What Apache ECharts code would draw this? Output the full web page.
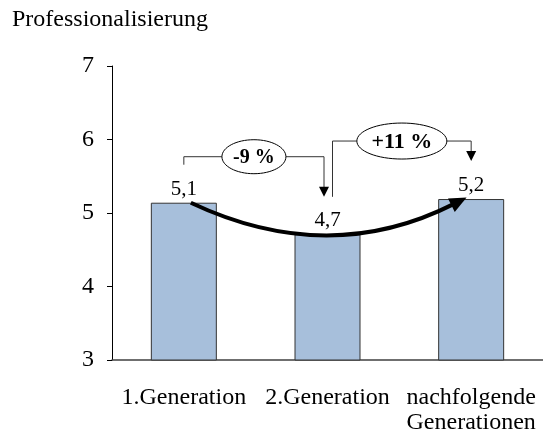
<!DOCTYPE html>
<html><head><meta charset="utf-8">
<script src="https://cdn.jsdelivr.net/npm/echarts@6/dist/echarts.min.js"></script>
<style>html,body{margin:0;padding:0;background:#fff}#c{width:543px;height:435px}</style>
</head><body><div id="c"></div>
<script>
// ---- data ----
const chartTitle = 'Professionalisierung';
const categories = ['1.Generation', '2.Generation', 'nachfolgende\nGenerationen'];
const values = [5.14, 4.71, 5.19];
const changeLabels = ['-9 %', '+11 %'];
const yTicks = [3, 4, 5, 6, 7];

const FONT = '"Liberation Serif", "Times New Roman", serif';
const chart = echarts.init(document.getElementById('c'), null, { renderer: 'canvas' });

chart.setOption({
  animation: false,
  title: {
    text: chartTitle, left: 12, top: 8, padding: 0,
    textStyle: { fontFamily: FONT, fontSize: 24, fontWeight: 'normal', color: '#000' }
  },
  grid: { left: 112, top: 66, width: 437, height: 294, containLabel: false },
  xAxis: {
    type: 'category', data: categories,
    axisLine: { lineStyle: { color: '#404040', width: 1.5 } },
    axisTick: { show: false },
    axisLabel: {
      interval: 0, margin: 25,
      formatter: v => v.split('\n').map(s => '{r|' + s + '}').join('\n'),
      rich: { r: { align: 'right', fontFamily: FONT, fontSize: 24, lineHeight: 25, color: '#000' } }
    }
  },
  yAxis: {
    type: 'value', min: yTicks[0], max: yTicks[yTicks.length - 1], interval: yTicks[1] - yTicks[0],
    splitLine: { show: false },
    axisLine: { show: true, lineStyle: { color: '#000', width: 1 } },
    axisTick: { show: true, length: 5, lineStyle: { color: '#000' } },
    axisLabel: { margin: 18, fontFamily: FONT, fontSize: 24, color: '#000' }
  },
  series: [{
    type: 'bar', data: values, barWidth: 66,
    itemStyle: { color: '#A7BFDB', borderColor: '#333', borderWidth: 1 },
    label: {
      show: true, position: 'top', distance: 3,
      fontFamily: FONT, fontSize: 21, color: '#000',
      formatter: p => p.value.toFixed(1).replace('.', ',')
    }
  }]
});

// ---- annotations positioned from the library's scales ----
const px = (i, v) => chart.convertToPixel({ gridIndex: 0 }, [i, v]);
const P = values.map((v, i) => px(i, v));
const els = [];
const LC = '#333';

function line(x1, y1, x2, y2) {
  els.push({ type: 'line', shape: { x1, y1, x2, y2 }, style: { stroke: LC, lineWidth: 1 }, z: 10 });
}
function downArrow(x, yTop, yTip) {
  line(x, yTop, x, yTip - 9);
  els.push({ type: 'polygon', shape: { points: [[x - 5, yTip - 10], [x + 5, yTip - 10], [x, yTip]] }, style: { fill: '#000' }, z: 10 });
}
function bracket(xl, yl, xr, yTip, hy, label, rx, ry, fs) {
  const cx = (xl + xr) / 2;
  line(xl, yl, xl, hy);
  line(xl, hy, cx - rx, hy);
  line(cx + rx, hy, xr, hy);
  downArrow(xr, hy, yTip);
  els.push({ type: 'ellipse', shape: { cx, cy: hy, rx, ry }, style: { fill: '#fff', stroke: '#000', lineWidth: 1 }, z: 11 });
  els.push({ type: 'text', style: { text: label, x: cx, y: hy + 1, align: 'center', verticalAlign: 'middle', font: 'bold ' + fs + 'px ' + FONT, fill: '#000' }, z: 12 });
}

// bracket 1 (1. -> 2. Generation)
const hy1 = Math.min(P[0][1], P[1][1]) - 46;
const tip1 = P[1][1] - 37.5;
bracket(P[0][0], P[0][1] - 38, P[1][0] - 3.5, tip1, hy1, changeLabels[0], 32, 17, 20);
// bracket 2 (2. -> nachfolgende)
const hy2 = Math.min(P[1][1], P[2][1]) - 58;
bracket(P[1][0] + 5, tip1, P[2][0], P[2][1] - 38, hy2, changeLabels[1], 45, 18, 22);

// curved trend arrow
const S = [P[0][0] + 7, P[0][1]];
const T = [P[2][0] - 4.6, P[2][1] - 1.5];
const M = [P[1][0] + 1, P[1][1] - 0.5];
let C = [2 * M[0] - 0.5 * (S[0] + T[0]), 2 * M[1] - 0.5 * (S[1] + T[1])];
let dx = T[0] - C[0], dy = T[1] - C[1];
const dl = Math.hypot(dx, dy); dx /= dl; dy /= dl;
const B = [T[0] - 17 * dx, T[1] - 17 * dy];
const E = [B[0] + 3 * dx, B[1] + 3 * dy];
els.push({ type: 'bezierCurve', shape: { x1: S[0], y1: S[1], x2: E[0], y2: E[1], cpx1: C[0], cpy1: C[1] }, style: { stroke: '#000', lineWidth: 4, fill: null }, z: 20 });
els.push({ type: 'polygon', shape: { points: [T, [B[0] - 7.5 * dy, B[1] + 7.5 * dx], [B[0] + 7.5 * dy, B[1] - 7.5 * dx]] }, style: { fill: '#000' }, z: 21 });

chart.setOption({ graphic: els });
</script>
</body></html>
